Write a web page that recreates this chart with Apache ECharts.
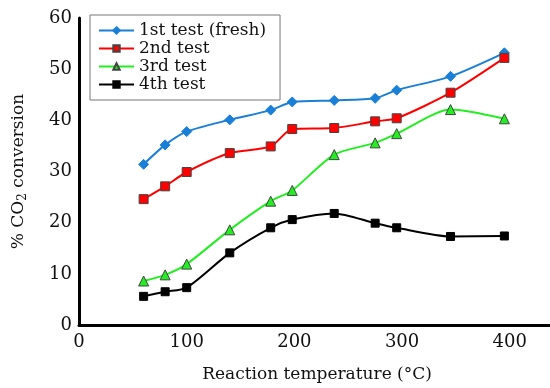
<!DOCTYPE html>
<html>
<head>
<meta charset="utf-8">
<script src="https://cdn.jsdelivr.net/npm/echarts@6/dist/echarts.min.js"></script>
<style>
  html, body { margin: 0; padding: 0; background: #fff; overflow: hidden; }
  #chart { width: 560px; height: 388px; }
</style>
</head>
<body>
<div id="chart"></div>
<script>
// reaction temperature (°C)
const temps = [60, 80, 100, 140, 178, 198, 237, 275, 295, 345, 395];
const test1 = [31.4, 35.2, 37.8, 40.1, 42.0, 43.6, 43.9, 44.3, 45.9, 48.6, 53.2];
const test2 = [24.6, 27.1, 29.9, 33.6, 34.9, 38.3, 38.5, 39.8, 40.4, 45.4, 52.2];
const test3 = [8.6, 9.8, 11.9, 18.6, 24.2, 26.3, 33.3, 35.6, 37.4, 42.1, 40.3];
const test4 = [5.6, 6.5, 7.3, 14.1, 19.0, 20.6, 21.8, 19.9, 19.0, 17.3, 17.4];
const seriesNames = ['1st test (fresh)', '2nd test', '3rd test', '4th test'];

const font = '"DejaVu Serif", serif';

function pairs(values) {
    return temps.map((t, i) => [t, values[i]]);
}

chartElement = document.getElementById('chart');
let chart = echarts.init(chartElement);

let lineSeries = function (name, values, color, symbol, size, border) {
    return {
        name: name,
        type: 'line',
        smooth: 0.25,
        symbol: symbol,
        symbolSize: size,
        showAllSymbol: true,
        lineStyle: { color: color, width: 2 },
        itemStyle: { color: color, borderColor: border, borderWidth: 1 },
        data: pairs(values)
    };
};

// the plot runs past the right edge of the 550px window, like the original
let option = {
    animation: false,
    grid: { left: 79, right: 5, top: 18, bottom: 61 },
    legend: {
        orient: 'vertical',
        left: 90,
        top: 15,
        padding: [7, 14, 7, 8],
        itemGap: 1,
        itemWidth: 35,
        itemHeight: 8,
        backgroundColor: '#fff',
        borderColor: '#777',
        borderWidth: 1,
        textStyle: { fontFamily: font, fontSize: 17, color: '#111' },
        data: seriesNames
    },
    xAxis: {
        type: 'value',
        min: 0,
        max: 442,
        interval: 100,
        name: 'Reaction temperature (°C)',
        nameLocation: 'middle',
        nameGap: 41,
        nameTextStyle: { fontFamily: font, fontSize: 17, color: '#111' },
        axisLine: { lineStyle: { color: '#000', width: 3 } },
        axisTick: { show: false },
        splitLine: { show: false },
        axisLabel: {
            showMaxLabel: false,
            margin: 8,
            fontFamily: font, fontSize: 18, color: '#111'
        }
    },
    yAxis: {
        type: 'value',
        min: 0,
        max: 60,
        interval: 10,
        name: '{a|% CO}{b|2}{a| conversion}',
        nameLocation: 'middle',
        nameGap: 50,
        nameTextStyle: {
            rich: {
                a: { fontFamily: font, fontSize: 17, color: '#111' },
                b: { fontFamily: font, fontSize: 12, color: '#111', padding: [8, 0, 0, 0] }
            }
        },
        axisLine: { show: true, lineStyle: { color: '#000', width: 3 } },
        axisTick: { show: false },
        splitLine: { show: false },
        axisLabel: { margin: 7, fontFamily: font, fontSize: 18, color: '#111' }
    },
    series: [
        lineSeries(seriesNames[0], test1, '#1a7fd6', 'diamond', 10, '#1a7fd6'),
        lineSeries(seriesNames[1], test2, '#ff0000', 'rect', 9, '#444'),
        lineSeries(seriesNames[2], test3, '#22ee22', 'triangle', 10, '#444'),
        lineSeries(seriesNames[3], test4, '#000000', 'rect', 8, '#000')
    ]
};

chart.setOption(option);
</script>
</body>
</html>
